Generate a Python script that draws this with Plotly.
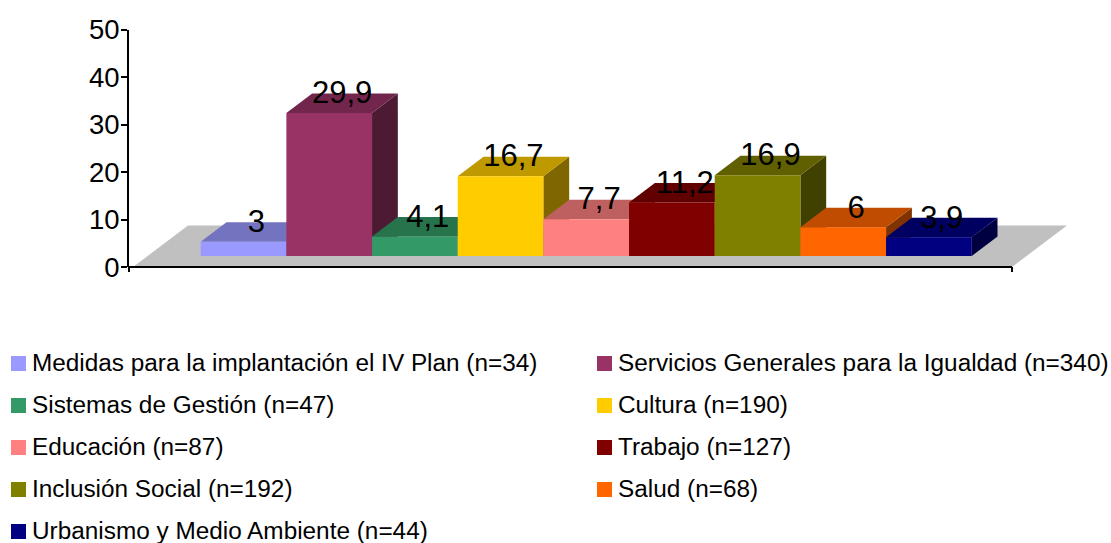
import plotly.graph_objects as go

categories = ["Medidas para la implantación el IV Plan (n=34)", "Servicios Generales para la Igualdad (n=340)",
              "Sistemas de Gestión (n=47)", "Cultura (n=190)", "Educación (n=87)", "Trabajo (n=127)",
              "Inclusión Social (n=192)", "Salud (n=68)", "Urbanismo y Medio Ambiente (n=44)"]
values = [3, 29.9, 4.1, 16.7, 7.7, 11.2, 16.9, 6, 3.9]
colors = ["#9999FF", "#993366", "#339966", "#FFCC00", "#FF8080", "#800000", "#808000", "#FF6600", "#000080"]
tick_values = [0, 10, 20, 30, 40, 50]

W, H = 1111, 543
L, R, T, B = 129, 1075, 20, 280
BAR_LEFT, BAR_W = 200.7, 85.67
BASE_Y, UNIT = 256.0, 4.78
AXIS_TOP, AXIS_BOTTOM, AXIS_END = 29.5, 267.0, 1012.0
DX, DY = 25.8 / BAR_W, 19.5 / UNIT
FONT = "Liberation Sans, Arial, sans-serif"


def shade(hex_color, k):
    r, g, b = (int(hex_color[i:i + 2], 16) for i in (1, 3, 5))
    return f"rgb({round(r * k)},{round(g * k)},{round(b * k)})"


def xd(px):
    return -0.5 + (px - BAR_LEFT) / BAR_W


def yd(py):
    return (BASE_Y - py) / UNIT


def xp(px):
    return (px - L) / (R - L)


def yp(py):
    return (B - py) / (B - T)


def poly(points):
    return "M" + " L".join(f"{x},{y}" for x, y in points) + " Z"


fig = go.Figure()
shapes = [dict(type="path", xref="x", yref="y2", layer="below", line_width=0, fillcolor="#C0C0C0",
               path=poly([(xd(133), yd(AXIS_BOTTOM)), (xd(AXIS_END), yd(AXIS_BOTTOM)),
                          (xd(1067), yd(225.5)), (xd(188), yd(225.5))]))]

for i, (name, v, c) in enumerate(zip(categories, values, colors)):
    a, b = i - 0.5, i + 0.5
    shapes.append(dict(type="path", xref="x", yref="y2", layer="below", line_width=0, fillcolor=shade(c, 0.5),
                       path=poly([(b, 0), (b + DX, DY), (b + DX, v + DY), (b, v)])))
    shapes.append(dict(type="path", xref="x", yref="y2", layer="below", line_width=0, fillcolor=shade(c, 0.75),
                       path=poly([(a, v), (b, v), (b + DX, v + DY), (a + DX, v + DY)])))
    fig.add_trace(go.Bar(x=[i], y=[v], name=name, width=1, yaxis="y2", marker=dict(color=c, line_width=0),
                         showlegend=False))

fig.add_trace(go.Scatter(x=[i + DX / 2 for i in range(len(values))], y=[v + 17.5 / UNIT for v in values],
                         yaxis="y2", mode="text", text=[str(v).replace(".", ",") for v in values],
                         textposition="middle center", textfont=dict(size=31, color="black", family=FONT),
                         showlegend=False, hoverinfo="skip", cliponaxis=False))
# keeps the left value axis alive
fig.add_trace(go.Scatter(x=[0], y=[0], mode="markers", marker_opacity=0, showlegend=False, hoverinfo="skip"))

# baseline with its end ticks
for x0, y0, x1, y1 in [(L - 1, AXIS_BOTTOM, AXIS_END, AXIS_BOTTOM), (L, AXIS_BOTTOM, L, 272),
                       (AXIS_END, AXIS_BOTTOM, AXIS_END, 272)]:
    shapes.append(dict(type="line", xref="paper", yref="paper", x0=xp(x0), x1=xp(x1), y0=yp(y0), y1=yp(y1),
                       line=dict(color="black", width=2)))

# legend
annotations = []
LEG_COLS = [(11, 32), (597, 618)]
for i, (name, c) in enumerate(zip(categories, colors)):
    sx, tx = LEG_COLS[i % 2]
    cy = 363.5 + 42 * (i // 2)
    shapes.append(dict(type="rect", xref="paper", yref="paper", x0=xp(sx), x1=xp(sx + 15), y0=yp(cy - 7.5),
                       y1=yp(cy + 7.5), fillcolor=c, line_width=0))
    annotations.append(dict(xref="paper", yref="paper", x=xp(tx), y=yp(cy - 1.5), text=name, showarrow=False,
                            xanchor="left", yanchor="middle", borderpad=0, borderwidth=0,
                            font=dict(size=24.35, color="black", family=FONT)))

fig.update_layout(
    width=W, height=H, autosize=False, margin=dict(l=L, r=W - R, t=T, b=H - B, pad=0),
    paper_bgcolor="white", plot_bgcolor="rgba(0,0,0,0)", barmode="overlay", showlegend=False,
    shapes=shapes, annotations=annotations, font=dict(family=FONT, color="black"),
    xaxis=dict(range=[xd(L), xd(R)], visible=False, domain=[0, 1], automargin=False),
    yaxis=dict(range=[0, 50], domain=[yp(AXIS_BOTTOM), yp(AXIS_TOP)], tickvals=tick_values, showgrid=False,
               zeroline=False, showline=True, linecolor="black", linewidth=2, ticks="outside", ticklen=6,
               tickwidth=2, tickcolor="black", tickfont=dict(size=27.5, color="black", family=FONT),
               ticklabelstandoff=-4, automargin=False),
    yaxis2=dict(range=[yd(B), yd(T)], domain=[0, 1], visible=False, anchor="x", automargin=False),
)
fig.write_html("out.html", config={"displayModeBar": False},
               post_script="document.body.style.margin='0';document.body.style.overflow='hidden';")
